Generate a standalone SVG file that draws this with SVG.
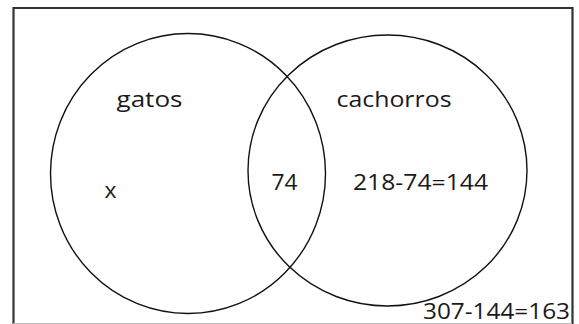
<svg xmlns="http://www.w3.org/2000/svg" width="579" height="324" viewBox="0 0 579 324">
<style>
.set{fill:none;stroke:#111;stroke-width:1.4}
.lbl{font-family:"Open Sans","Liberation Sans",sans-serif;font-size:21.5px;fill:#1a1a1a}
</style>
<rect x="0" y="0" width="579" height="324" fill="#fff"/>
<g id="universe">
<path d="M13.5,324 V8 H572.5 V324" fill="none" stroke="#333" stroke-width="2.2"/>
<line x1="13" y1="323.5" x2="572" y2="323.5" stroke="#bbb" stroke-width="1"/>
</g>
<g id="gatos">
<ellipse class="set" cx="188" cy="173.5" rx="137.5" ry="140"/>
<text class="lbl" x="116.5" y="107" textLength="66" lengthAdjust="spacingAndGlyphs">gatos</text>
<text class="lbl" x="104.5" y="198" textLength="12" lengthAdjust="spacingAndGlyphs">x</text>
</g>
<g id="cachorros">
<ellipse class="set" cx="387.5" cy="170.5" rx="139.5" ry="135.5"/>
<text class="lbl" x="336.5" y="107" textLength="115" lengthAdjust="spacingAndGlyphs">cachorros</text>
<text class="lbl" x="353" y="190" textLength="135" lengthAdjust="spacingAndGlyphs">218-74=144</text>
</g>
<g id="intersecao">
<text class="lbl" x="271.5" y="190" textLength="26" lengthAdjust="spacingAndGlyphs">74</text>
</g>
<g id="fora">
<text class="lbl" x="423" y="318.5" style="font-size:22px" textLength="147" lengthAdjust="spacingAndGlyphs">307-144=163</text>
</g>
<g id="connectors"></g>
</svg>
